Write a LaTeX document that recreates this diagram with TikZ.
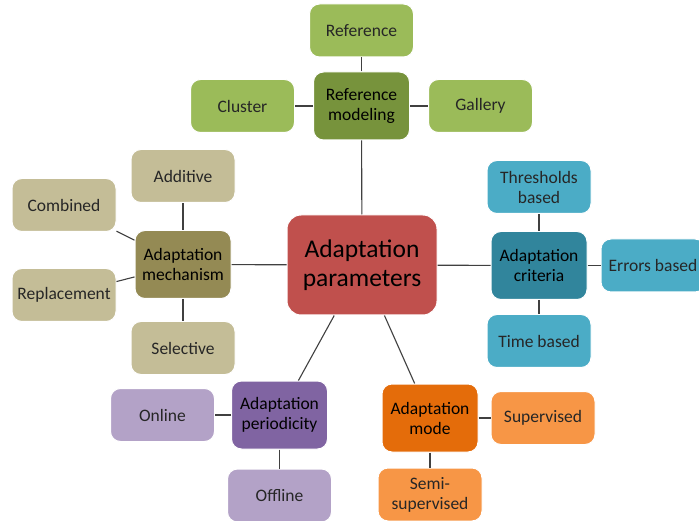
\documentclass[tikz,border=0pt]{standalone}
\usepackage{fontspec}
\setmainfont{Carlito}
\usepackage{xcolor}
\usepackage{tikz}
\usetikzlibrary{positioning}

\definecolor{coreRed}{HTML}{C0504D}
\definecolor{greenDark}{HTML}{77933C}
\definecolor{greenLight}{HTML}{9BBB59}
\definecolor{oliveDark}{HTML}{948A54}
\definecolor{oliveLight}{HTML}{C4BD97}
\definecolor{tealDark}{HTML}{31859C}
\definecolor{tealLight}{HTML}{4BACC6}
\definecolor{orangeDark}{HTML}{E46C0A}
\definecolor{orangeLight}{HTML}{F79646}
\definecolor{purpleDark}{HTML}{8064A2}
\definecolor{purpleLight}{HTML}{B3A2C7}

\begin{document}
\begin{tikzpicture}[x=1pt, y=1pt, node distance=14pt,
    core/.style={rectangle, draw=white, line width=1pt, fill=coreRed, rounded corners=14pt, text centered, align=center, minimum width=150pt, minimum height=100pt, font=\fontsize{25.5}{29}\selectfont},
    hub/.style={rectangle, draw=white, line width=1pt, rounded corners=10pt, text centered, align=center, inner sep=1pt, minimum width=96pt, minimum height=68pt, font=\fontsize{17.5}{20}\selectfont},
    leaf/.style={rectangle, draw=white, line width=1pt, rounded corners=10pt, text centered, align=center, inner sep=1pt, text=black!85, minimum width=104pt, minimum height=53pt, font=\fontsize{17.5}{20}\selectfont},
    line/.style={draw, black!75, line width=1.1pt}]

    \useasboundingbox (0,0) rectangle (699,520);
    \fill [white] (0,0) rectangle (699,520);
    \clip (0,0) rectangle (699,520);

    % Centre
    \node [core] (params) at (362,255) {Adaptation\\parameters};

    % Hubs
    \node [hub, fill=greenDark] (refmod) at (361.5,414) {Reference\\modeling};
    \node [hub, fill=oliveDark] (mechanism) at (183,255.5) {Adaptation\\mechanism};
    \node [hub, fill=tealDark] (criteria) at (539,254.5) {Adaptation\\criteria};
    \node [hub, fill=orangeDark] (mode) at (430,102) {Adaptation\\mode};
    \node [hub, fill=purpleDark] (periodicity) at (279.5,105) {Adaptation\\periodicity};

    % Reference modeling
    \node [leaf, fill=greenLight, above=14pt of refmod] (reference) {Reference};
    \node [leaf, fill=greenLight, left=18pt of refmod] (cluster) {Cluster};
    \node [leaf, fill=greenLight, right=18pt of refmod] (gallery) {Gallery};

    % Adaptation mechanism
    \node [leaf, fill=oliveLight, above=27pt of mechanism] (additive) {Additive};
    \node [leaf, fill=oliveLight, below=22pt of mechanism] (selective) {Selective};
    \node [leaf, fill=oliveLight] (combined) at (64,315) {Combined};
    \node [leaf, fill=oliveLight] (replacement) at (64,225) {Replacement};

    % Adaptation criteria
    \node [leaf, fill=tealLight, above=17pt of criteria] (thresholds) {Thresholds\\based};
    \node [leaf, fill=tealLight, below=14pt of criteria] (timebased) {Time based};
    \node [leaf, fill=tealLight, right=13pt of criteria] (errors) {Errors based};

    % Adaptation mode
    \node [leaf, fill=orangeLight, right=12pt of mode] (supervised) {Supervised};
    \node [leaf, fill=orangeLight, below=15pt of mode] (semi) {Semi-\\supervised};

    % Adaptation periodicity
    \node [leaf, fill=purpleLight, left=16pt of periodicity] (online) {Online};
    \node [leaf, fill=purpleLight, below=19pt of periodicity] (offline) {Offline};

    % Connections to the centre
    \path [line] (params) -- (refmod);
    \path [line] (params) -- (mechanism);
    \path [line] (params) -- (criteria);
    \path [line] (params) -- (mode);
    \path [line] (params) -- (periodicity);

    % Connections to the leaves
    \path [line] (refmod) -- (reference);
    \path [line] (refmod) -- (cluster);
    \path [line] (refmod) -- (gallery);
    \path [line] (mechanism) -- (additive);
    \path [line] (mechanism) -- (selective);
    \path [line] (mechanism) -- (combined);
    \path [line] (mechanism) -- (replacement);
    \path [line] (criteria) -- (thresholds);
    \path [line] (criteria) -- (timebased);
    \path [line] (criteria) -- (errors);
    \path [line] (mode) -- (supervised);
    \path [line] (mode) -- (semi);
    \path [line] (periodicity) -- (online);
    \path [line] (periodicity) -- (offline);

\end{tikzpicture}
\end{document}
